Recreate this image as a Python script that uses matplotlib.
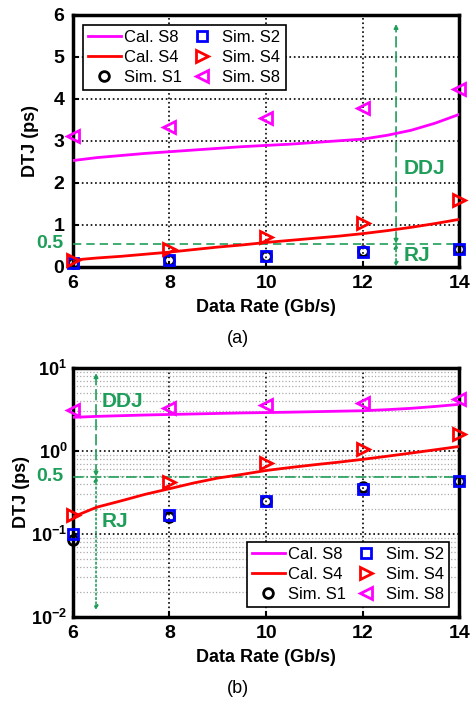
import matplotlib.pyplot as plt
import numpy as np
from matplotlib.ticker import NullFormatter, LogLocator
from matplotlib.transforms import blended_transform_factory

plt.rcParams['font.family'] = ['Liberation Sans', 'DejaVu Sans']
plt.rcParams['mathtext.fontset'] = 'custom'
plt.rcParams['mathtext.rm'] = 'Liberation Sans'
plt.rcParams['mathtext.bf'] = 'Liberation Sans:bold'

# data
rate = [6, 8, 10, 12, 14]
sim_s1 = [0.085, 0.16, 0.25, 0.37, 0.43]
sim_s2 = [0.10, 0.17, 0.25, 0.35, 0.43]
sim_s4 = [0.17, 0.42, 0.72, 1.05, 1.60]
sim_s8 = [3.12, 3.32, 3.54, 3.79, 4.23]

cal_x = [6, 6.5, 7, 7.5, 8, 8.5, 9, 9.5, 10, 10.5, 11, 11.5, 12, 12.5, 13, 13.5, 14]
cal_s8 = [2.53, 2.60, 2.65, 2.70, 2.74, 2.78, 2.82, 2.86, 2.89, 2.92, 2.96, 3.00, 3.04, 3.13, 3.25, 3.42, 3.63]
cal_s4 = [0.16, 0.21, 0.25, 0.30, 0.35, 0.41, 0.47, 0.52, 0.58, 0.63, 0.68, 0.73, 0.79, 0.86, 0.94, 1.03, 1.13]

green = '#1f9e5a'
fig = plt.figure(figsize=(4.76, 7.04), dpi=100)


def draw(ax, loc, label_x):
    ax.plot(cal_x, cal_s8, color='magenta', lw=2, label='Cal. S8', zorder=4)
    ax.plot(cal_x, cal_s4, color='red', lw=2, label='Cal. S4', zorder=4)
    mk = dict(ls='none', mfc='none', mew=2, clip_on=False, zorder=5)
    ax.plot(rate, sim_s1, marker='o', color='black', label='Sim. S1', ms=7, **mk)
    ax.plot(rate, sim_s2, marker='s', color='blue', label='Sim. S2', ms=6.5, **mk)
    ax.plot(rate, sim_s4, marker='>', color='red', label='Sim. S4', ms=8, **mk)
    ax.plot(rate, sim_s8, marker='<', color='magenta', label='Sim. S8', ms=8, **mk)
    leg = ax.legend(loc=loc, ncol=2, fancybox=False, framealpha=1, fontsize=12,
                    handlelength=2.0, handletextpad=0.2, columnspacing=0.2,
                    labelspacing=0.3, borderpad=0.3, borderaxespad=0.6)
    leg.get_frame().set_edgecolor('black')
    leg.get_frame().set_linewidth(1.2)
    ax.set_xlim(6, 14)
    ax.set_xticks([6, 8, 10, 12, 14])
    ax.set_xlabel('Data Rate (Gb/s)', fontsize=13, fontweight='bold', labelpad=5)
    ax.set_ylabel('DTJ (ps)', fontsize=13, fontweight='bold')
    ax.yaxis.set_label_coords(label_x, 0.5)
    for s in ax.spines.values():
        s.set_linewidth(2.5)
    ax.tick_params(labelsize=14, width=1.5, length=4, direction='in', pad=6)
    for t in ax.get_xticklabels() + ax.get_yticklabels():
        t.set_fontweight('bold')
    ax.grid(True, which='major', color='black', ls=':', lw=1.2)


# (a) linear
ax1 = fig.add_axes([0.153, 0.621, 0.812, 0.358])
draw(ax1, 'upper left', -0.087)
ax1.set_ylim(0, 6)
ax1.set_yticks([0, 1, 2, 3, 4, 5, 6])
for t in ax1.get_yticklabels():
    t.set_fontweight('bold')
ax1.axhline(0.55, color=green, ls=(0, (5, 3)), lw=1.2, zorder=3)
ax1.annotate('', xy=(12.69, 5.78), xytext=(12.69, 0.55),
             arrowprops=dict(arrowstyle='<|-|>', color=green, lw=1.2, ls=(0, (6, 3)),
                             mutation_scale=6, shrinkA=0, shrinkB=0))
ax1.annotate('', xy=(12.69, 0.0), xytext=(12.69, 0.55),
             arrowprops=dict(arrowstyle='<|-|>', color=green, lw=1.2, ls=':',
                             mutation_scale=6, shrinkA=0, shrinkB=0))
ax1.text(12.85, 2.35, 'DDJ', color=green, fontsize=15, fontweight='bold', va='center')
ax1.text(12.85, 0.28, 'RJ', color=green, fontsize=15, fontweight='bold', va='center')
tr1 = blended_transform_factory(ax1.transAxes, ax1.transData)
ax1.text(-0.025, 0.55, '0.5', transform=tr1, color=green, fontsize=14,
         fontweight='bold', ha='right', va='center')
fig.text(0.5, 0.519, '(a)', ha='center', va='center', fontsize=13)

# (b) log
ax2 = fig.add_axes([0.153, 0.1236, 0.812, 0.354])
draw(ax2, 'lower right', -0.112)
ax2.set_yscale('log')
ax2.set_ylim(0.01, 10)
ax2.set_yticks([0.01, 0.1, 1, 10])
ax2.set_yticklabels([r'$\mathbf{10^{-2}}$', r'$\mathbf{10^{-1}}$', r'$\mathbf{10^{0}}$', r'$\mathbf{10^{1}}$'])
ax2.tick_params(axis='y', labelsize=13, pad=4)
ax2.yaxis.set_minor_locator(LogLocator(base=10, subs=np.arange(2, 10)))
ax2.yaxis.set_minor_formatter(NullFormatter())
ax2.tick_params(axis='y', which='minor', length=0)
ax2.grid(True, which='minor', axis='y', color='#aaaaaa', ls=':', lw=0.9)
ax2.axhline(0.49, color=green, ls='-.', lw=1.2, zorder=3)
ax2.annotate('', xy=(6.48, 8.6), xytext=(6.48, 0.49),
             arrowprops=dict(arrowstyle='<|-|>', color=green, lw=1.2, ls=(0, (6, 3)),
                             mutation_scale=6, shrinkA=0, shrinkB=0))
ax2.annotate('', xy=(6.48, 0.012), xytext=(6.48, 0.49),
             arrowprops=dict(arrowstyle='<|-|>', color=green, lw=1.2, ls=':',
                             mutation_scale=6, shrinkA=0, shrinkB=0))
ax2.text(6.6, 3.9, 'DDJ', color=green, fontsize=15, fontweight='bold', va='center')
ax2.text(6.6, 0.14, 'RJ', color=green, fontsize=15, fontweight='bold', va='center')
tr2 = blended_transform_factory(ax2.transAxes, ax2.transData)
ax2.text(-0.025, 0.49, '0.5', transform=tr2, color=green, fontsize=14,
         fontweight='bold', ha='right', va='center')
fig.text(0.5, 0.022, '(b)', ha='center', va='center', fontsize=13)

fig.savefig('out.png', dpi=100)
